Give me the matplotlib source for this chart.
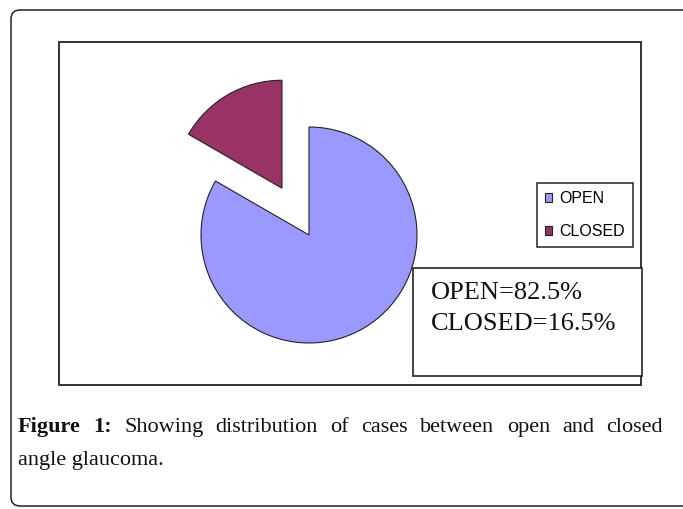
import matplotlib.pyplot as plt
from matplotlib.patches import Rectangle, FancyBboxPatch

labels = ["OPEN", "CLOSED"]
sizes = [82.5, 16.5]
colors = ["#9999FF", "#993366"]
note_lines = ["OPEN=82.5%", "CLOSED=16.5%"]
caption_line1 = ["Figure", "1:", "Showing", "distribution", "of", "cases", "between", "open", "and", "closed"]
caption_bold = ["Figure", "1:"]
caption_line2 = "angle glaucoma."

W, H = 683, 509
fig = plt.figure(figsize=(W / 100, H / 100), dpi=100)
ax = fig.add_axes([0, 0, 1, 1])

def Y(py):
    # pixel rows counted from the top
    return H - py

# outer rounded frame (right side runs off the image)
frame = FancyBboxPatch((11, Y(506)), 720, 496, boxstyle="round,pad=0,rounding_size=9",
                       fill=False, edgecolor="#222222", linewidth=1.1)
ax.add_patch(frame)

# chart box
ax.add_patch(Rectangle((59, Y(385)), 582, 343, fill=False, edgecolor="#333333", linewidth=1.4))

# explode is in data units here (pixels), 0.5 of the radius
wedges, _ = ax.pie(sizes, colors=colors, startangle=90, counterclock=False,
                   explode=[0, 54], center=(309, Y(235)), radius=108,
                   wedgeprops=dict(edgecolor="#222222", linewidth=0.8), frame=True)

ax.set_xlim(0, W)
ax.set_ylim(0, H)
ax.set_aspect("equal")
ax.axis("off")

leg = ax.legend(wedges, labels, loc="upper left", bbox_to_anchor=(537 / W, Y(183) / H),
                bbox_transform=fig.transFigure, fancybox=False, framealpha=1,
                edgecolor="#222222", prop=dict(family="Liberation Sans", size=11.5),
                handlelength=0.45, handleheight=0.45, handletextpad=0.45,
                labelspacing=1.15, borderpad=0.5, borderaxespad=0)
leg.get_frame().set_linewidth(1.1)

# values box
ax.add_patch(Rectangle((413, Y(376)), 229, 108, facecolor="white", edgecolor="#222222", linewidth=1.2, zorder=5))
for i, s in enumerate(note_lines):
    ax.text(431, Y(293 + i * 31), s, family="Liberation Serif", fontsize=19,
            va="center", ha="left", color="#111111", zorder=6)

# caption, first line justified
fig.canvas.draw()
r = fig.canvas.get_renderer()
x0, x1 = 18, 663
words = []
for w in caption_line1:
    t = ax.text(0, Y(432), w, family="Liberation Serif", fontsize=16,
                fontweight="bold" if w in caption_bold else "normal",
                va="baseline", ha="left", color="#111111")
    words.append(t)
widths = [t.get_window_extent(r).width for t in words]
gap = (x1 - x0 - sum(widths)) / (len(words) - 1)
x = x0
for t, wd in zip(words, widths):
    t.set_x(x)
    x += wd + gap
ax.text(x0, Y(465), caption_line2, family="Liberation Serif", fontsize=16,
        va="baseline", ha="left", color="#111111")

fig.savefig("out.png", dpi=100)
